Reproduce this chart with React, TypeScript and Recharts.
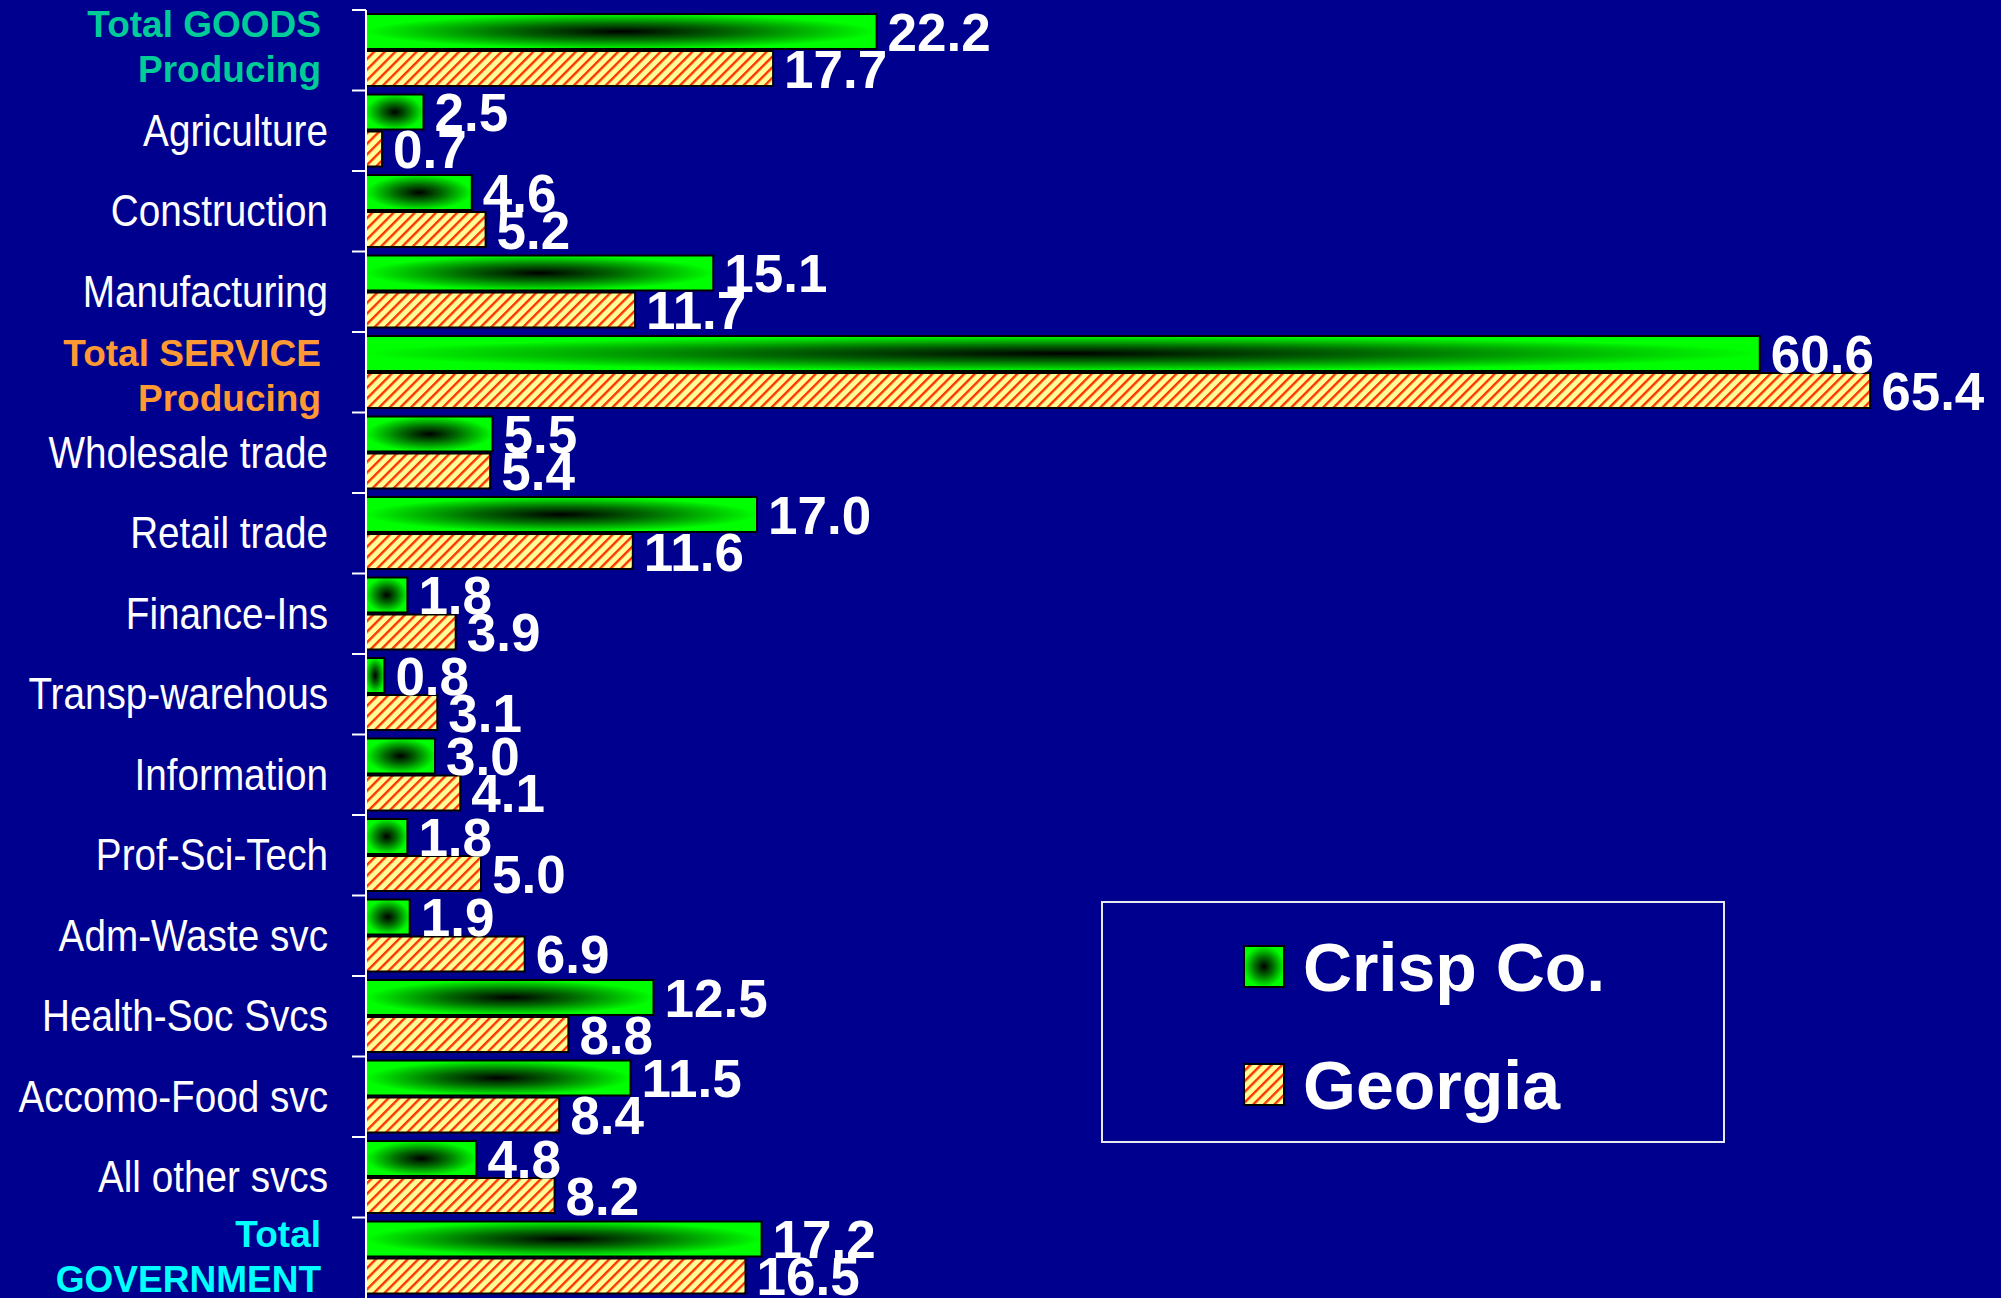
import React from 'react';
import { BarChart, Bar, XAxis, YAxis, LabelList } from 'recharts';

const categories = [
  'Total GOODS Producing',
  'Agriculture',
  'Construction',
  'Manufacturing',
  'Total SERVICE Producing',
  'Wholesale trade',
  'Retail trade',
  'Finance-Ins',
  'Transp-warehous',
  'Information',
  'Prof-Sci-Tech',
  'Adm-Waste svc',
  'Health-Soc Svcs',
  'Accomo-Food svc',
  'All other svcs',
  'Total GOVERNMENT',
];
const crispCo = [22.2, 2.5, 4.6, 15.1, 60.6, 5.5, 17.0, 1.8, 0.8, 3.0, 1.8, 1.9, 12.5, 11.5, 4.8, 17.2];
const georgia = [17.7, 0.7, 5.2, 11.7, 65.4, 5.4, 11.6, 3.9, 3.1, 4.1, 5.0, 6.9, 8.8, 8.4, 8.2, 16.5];
const seriesNames = ['Crisp Co.', 'Georgia'];

// header rows get two bold coloured lines
const headerRows: Record<string, { lines: string[]; color: string; dy: number[] }> = {
  'Total GOODS Producing': { lines: ['Total GOODS', 'Producing'], color: '#00CC99', dy: [-13, 32] },
  'Total SERVICE Producing': { lines: ['Total SERVICE', 'Producing'], color: '#FF9933', dy: [-6, 39] },
  'Total GOVERNMENT': { lines: ['Total', 'GOVERNMENT'], color: '#00FFFF', dy: [-11, 34] },
};

const W = 2001;
const H = 1298;
const MARGIN = { top: 10, right: 25, bottom: 0, left: 0 };
const AXIS_W = 366;
const BG = '#00008E';
const FONT = '"Liberation Sans", Arial, Helvetica, sans-serif';

const rows = categories.map((name, i) => ({ name, crisp: crispCo[i], georgia: georgia[i] }));

const band = (H - MARGIN.top - MARGIN.bottom) / categories.length;

const CategoryTick = (props: any) => {
  const { y, payload } = props;
  const axisX = MARGIN.left + AXIS_W;
  const header = headerRows[payload.value];
  const top = y - band / 2;
  return (
    <g>
      <line x1={axisX - 14} x2={axisX} y1={top} y2={top} stroke="#FFFFFF" strokeWidth={2} />
      {header ? (
        header.lines.map((ln, i) => (
          <text
            key={ln}
            x={axisX - 45}
            y={y + header.dy[i]}
            textAnchor="end"
            fill={header.color}
            fontFamily={FONT}
            fontWeight="bold"
            fontSize={37}
          >
            {ln}
          </text>
        ))
      ) : (
        <g transform={`translate(${axisX - 38},${y + 15})`}>
          <text
            transform="scale(0.86,1)"
            textAnchor="end"
            fill="#FFFFFF"
            fontFamily={FONT}
            fontSize={45}
          >
            {payload.value}
          </text>
        </g>
      )}
    </g>
  );
};

const ValueLabel = (props: any) => {
  const { x, y, width, height, value } = props;
  return (
    <text
      x={x + width + 11}
      y={y + height / 2 + 19}
      fill="#FFFFFF"
      fontFamily={FONT}
      fontWeight="bold"
      fontSize={53}
    >
      {Number(value).toFixed(1)}
    </text>
  );
};

const LegendBox = () => (
  <div
    style={{
      position: 'absolute',
      left: 1101,
      top: 901,
      width: 624,
      height: 242,
      border: '2px solid #E8E8F0',
      boxSizing: 'border-box',
    }}
  >
    <svg width={620} height={238} style={{ display: 'block' }}>
      {seriesNames.map((name, i) => (
        <g key={name}>
          <rect
            x={141}
            y={43 + i * 118}
            width={40}
            height={41}
            fill={i === 0 ? 'url(#crispGrad)' : 'url(#gaHatch)'}
            stroke="#000"
            strokeWidth={2}
          />
          <text
            x={200}
            y={63 + i * 118 + 25}
            fill="#FFFFFF"
            fontFamily={FONT}
            fontWeight="bold"
            fontSize={68}
          >
            {name}
          </text>
        </g>
      ))}
    </svg>
  </div>
);

export default function App() {
  return (
    <div style={{ position: 'absolute', left: 0, top: 0, width: W, height: H, background: BG, overflow: 'hidden' }}>
      <BarChart
        width={W}
        height={H}
        data={rows}
        layout="vertical"
        margin={MARGIN}
        barSize={35}
        barGap={2}
      >
        <defs>
          <radialGradient id="crispGrad" cx="0.5" cy="0.5" r="0.5">
            <stop offset="0" stopColor="#000000" />
            <stop offset="0.45" stopColor="#006A00" />
            <stop offset="1" stopColor="#00FF00" />
          </radialGradient>
          <pattern
            id="gaHatch"
            patternUnits="userSpaceOnUse"
            width={7.5}
            height={7.5}
            patternTransform="rotate(45)"
          >
            <rect x={0} y={0} width={7.5} height={7.5} fill="#FFFF99" />
            <rect x={0} y={0} width={2.4} height={7.5} fill="#FF3300" />
          </pattern>
        </defs>
        <XAxis type="number" domain={[0, 70]} hide />
        <YAxis
          type="category"
          dataKey="name"
          width={AXIS_W}
          interval={0}
          axisLine={{ stroke: '#FFFFFF', strokeWidth: 2 }}
          tickLine={false}
          tick={<CategoryTick />}
        />
        <Bar
          dataKey="crisp"
          name={seriesNames[0]}
          fill="url(#crispGrad)"
          stroke="#000000"
          strokeWidth={2}
          isAnimationActive={false}
        >
          <LabelList dataKey="crisp" content={<ValueLabel />} />
        </Bar>
        <Bar
          dataKey="georgia"
          name={seriesNames[1]}
          fill="url(#gaHatch)"
          stroke="#000000"
          strokeWidth={2}
          isAnimationActive={false}
        >
          <LabelList dataKey="georgia" content={<ValueLabel />} />
        </Bar>
      </BarChart>
      <LegendBox />
    </div>
  );
}
